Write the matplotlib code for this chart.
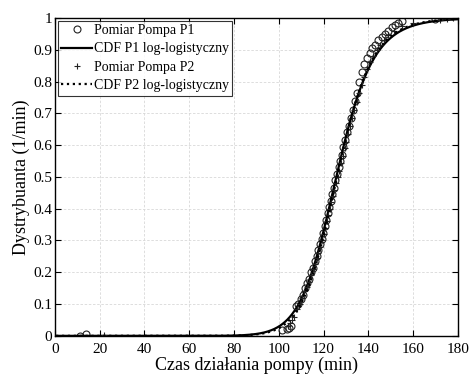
"""
Empirical CDF of pump operating times with log-logistic fits (P1 and P2).
"""

import numpy as np
import matplotlib
matplotlib.use("Agg")
import matplotlib.pyplot as plt

# measured points, pump P1 (time in min, empirical CDF)
t_p1 = [11, 14, 101.5, 103.5, 104.5, 105.5, 107.5, 108.5, 109.8, 110.8, 111.8, 112.7,
        113.6, 114.5, 115.3, 116.1, 116.9, 117.7, 118.4, 119.1, 119.8, 120.5, 121.2,
        121.9, 122.6, 123.2, 123.9, 124.6, 125.3, 126.0, 126.7, 127.4, 128.1, 128.9,
        129.7, 130.5, 131.3, 132.2, 133.0, 134.0, 134.8, 136.0, 137.2, 138.2, 139.4,
        140.6, 141.8, 143.0, 144.5, 146.0, 147.5, 149.0, 150.5, 152.0, 153.5, 155.0, 170.0]
f_p1 = [0.0, 0.007, 0.018, 0.02, 0.024, 0.03, 0.095, 0.10, 0.115, 0.13, 0.15, 0.165,
        0.18, 0.20, 0.215, 0.235, 0.25, 0.27, 0.29, 0.305, 0.325, 0.345, 0.365,
        0.385, 0.405, 0.425, 0.445, 0.465, 0.49, 0.51, 0.53, 0.55, 0.57, 0.595,
        0.615, 0.64, 0.66, 0.685, 0.71, 0.74, 0.765, 0.80, 0.83, 0.855, 0.875,
        0.89, 0.905, 0.915, 0.93, 0.94, 0.95, 0.96, 0.97, 0.978, 0.985, 0.99, 0.998]

# measured points, pump P2
t_p2 = [22, 104.0, 105.0, 106.0, 107.0, 108.2, 109.5, 110.5, 111.5, 112.5, 113.4, 114.3,
        115.2, 116.0, 116.9, 117.7, 118.5, 119.2, 120.0, 120.7, 121.4, 122.1, 122.8,
        123.5, 124.2, 124.9, 125.6, 126.3, 127.0, 127.8, 128.6, 129.4, 130.2, 131.0,
        131.9, 132.8, 133.8, 134.8, 135.9, 137.0, 138.2, 139.5, 140.8, 142.2, 143.7,
        145.2, 147.0, 149.0, 151.5, 155.0, 160.0, 172.0, 175.0, 178.0]
f_p2 = [0.002, 0.03, 0.04, 0.05, 0.06, 0.085, 0.10, 0.12, 0.14, 0.155, 0.17, 0.19,
        0.21, 0.225, 0.245, 0.26, 0.28, 0.30, 0.32, 0.34, 0.36, 0.38, 0.40,
        0.42, 0.44, 0.46, 0.48, 0.50, 0.52, 0.545, 0.565, 0.59, 0.61, 0.635,
        0.66, 0.685, 0.71, 0.735, 0.765, 0.79, 0.815, 0.84, 0.86, 0.88, 0.90,
        0.915, 0.93, 0.945, 0.96, 0.975, 0.985, 0.995, 0.997, 0.999]

# log-logistic fit parameters (scale alpha, shape beta)
alpha_p1, beta_p1 = 125.7, 15.3
alpha_p2, beta_p2 = 126.0, 16.0

x_ticks = list(range(0, 181, 20))
y_ticks = [round(0.1 * i, 1) for i in range(11)]
y_labels = ["0", "0.1", "0.2", "0.3", "0.4", "0.5", "0.6", "0.7", "0.8", "0.9", "1"]


def loglogistic_cdf(t, alpha, beta):
    t = np.asarray(t, dtype=float)
    return 1.0 / (1.0 + (t / alpha) ** (-beta))


plt.rcParams["font.family"] = ["Liberation Serif", "DejaVu Serif"]

fig = plt.figure(figsize=(4.7, 3.74), dpi=100)
ax = fig.add_axes([0.117, 0.102, 0.857, 0.85])

t = np.linspace(0.5, 180, 800)

ax.plot(t_p1, f_p1, "o", mfc="none", mec="#222222", ms=5, mew=0.8,
        label="Pomiar Pompa P1")
ax.plot(t, loglogistic_cdf(t, alpha_p1, beta_p1), "-", color="black", lw=1.6,
        label="CDF P1 log-logistyczny")
ax.plot(t_p2, f_p2, "+", color="#222222", ms=4.5, mew=0.8,
        label="Pomiar Pompa P2")
ax.plot(t, loglogistic_cdf(t, alpha_p2, beta_p2), ":", color="black", lw=1.6,
        label="CDF P2 log-logistyczny")

ax.set_xlim(0, 180)
ax.set_ylim(0, 1)
ax.set_xticks(x_ticks)
ax.set_yticks(y_ticks)
ax.set_yticklabels(y_labels)
ax.tick_params(direction="in", top=True, right=True, labelsize=11, length=4)
ax.tick_params(axis="x", pad=5)
ax.tick_params(axis="y", pad=2)
ax.grid(True, color="#d8d8d8", linestyle=(0, (3, 2)), linewidth=0.6)
ax.set_axisbelow(True)
for s in ax.spines.values():
    s.set_linewidth(1.0)

ax.set_xlabel("Czas działania pompy (min)", fontsize=13, labelpad=1)
ax.set_ylabel("Dystrybuanta (1/min)", fontsize=13, labelpad=2)

leg = ax.legend(loc="upper left", fontsize=10, frameon=True, fancybox=False,
                edgecolor="black", handlelength=2.2, handletextpad=0.15,
                borderpad=0.25, labelspacing=0.38, borderaxespad=0.2)
leg.get_frame().set_linewidth(0.8)

fig.savefig("out.png", dpi=100)
